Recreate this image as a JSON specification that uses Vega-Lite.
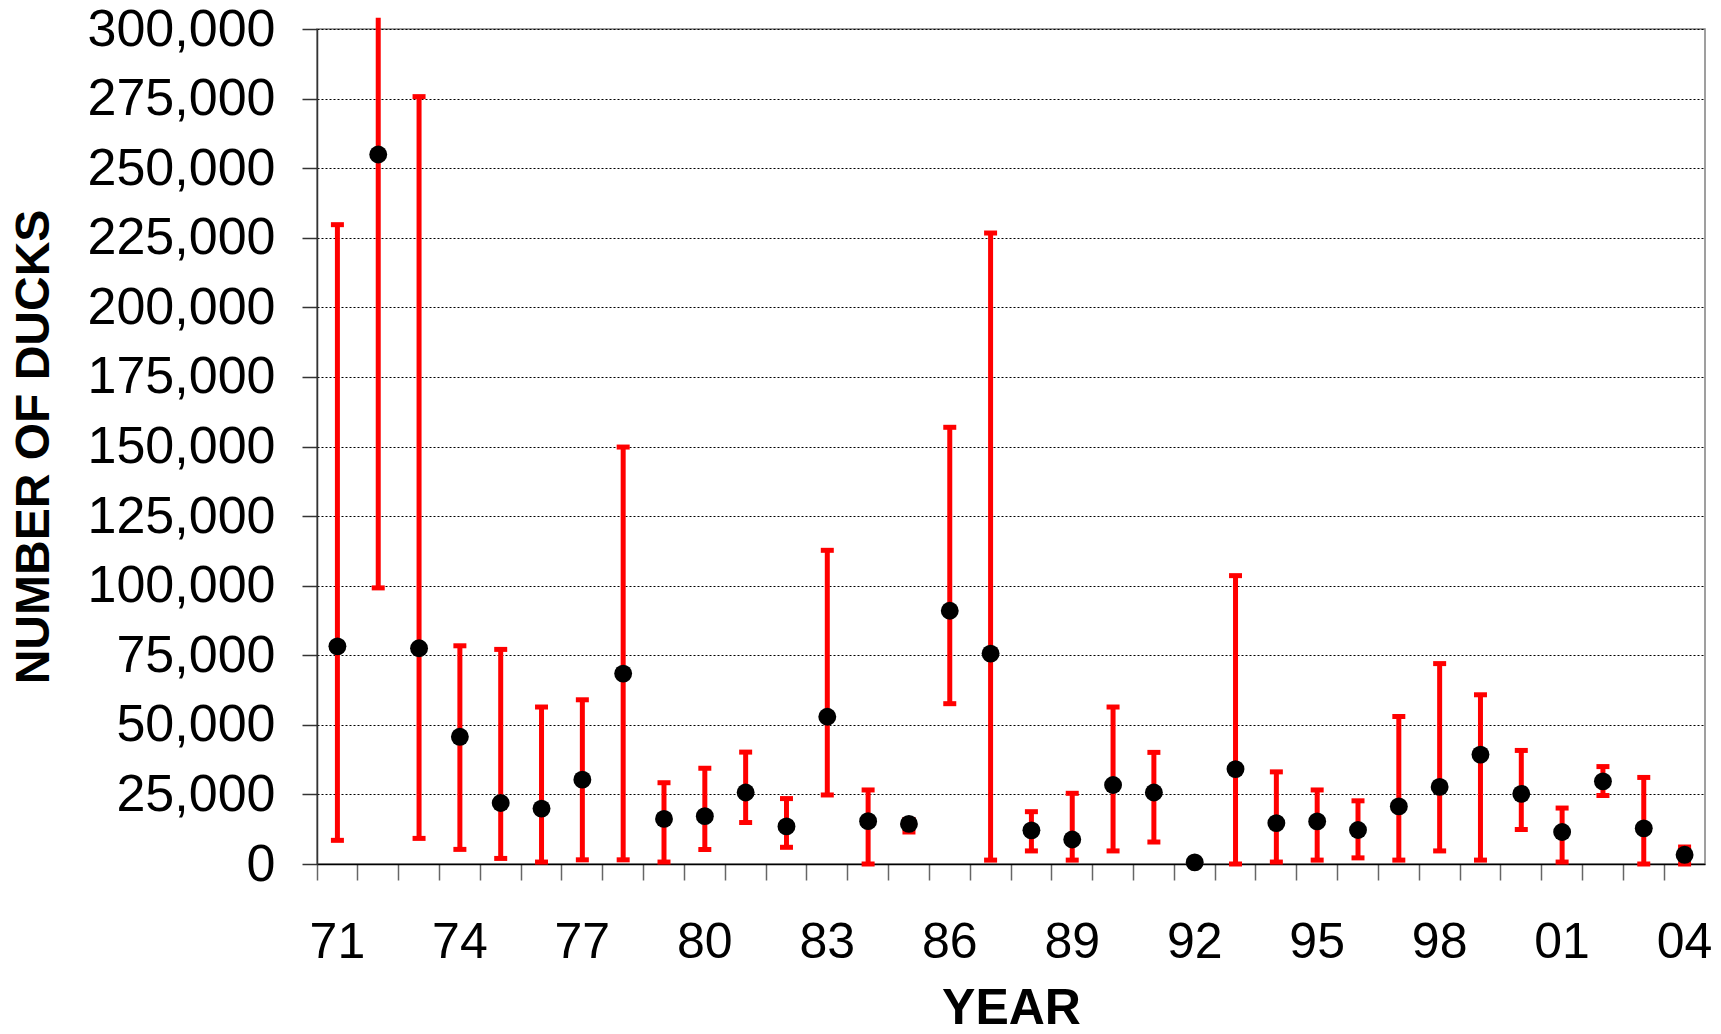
{
  "$schema": "https://vega.github.io/schema/vega-lite/v6.json",
  "width": 1388,
  "height": 835,
  "autosize": {"type": "none"},
  "padding": {"left": 317, "top": 29, "right": 16, "bottom": 170},
  "background": "#ffffff",
  "config": {
    "font": "Liberation Sans",
    "view": {"stroke": "#808080", "strokeWidth": 1.5}
  },
  "data": {
    "values": [
      {"yr": "71", "est": 78200, "lo": 8500, "hi": 229700},
      {"yr": "72", "est": 254900, "lo": 99200, "hi": 304000},
      {"yr": "73", "est": 77500, "lo": 9200, "hi": 275700},
      {"yr": "74", "est": 45700, "lo": 5250, "hi": 78400},
      {"yr": "75", "est": 21900, "lo": 2000, "hi": 77100},
      {"yr": "76", "est": 19900, "lo": 700, "hi": 56400},
      {"yr": "77", "est": 30300, "lo": 1500, "hi": 59000},
      {"yr": "78", "est": 68400, "lo": 1500, "hi": 149800},
      {"yr": "79", "est": 16200, "lo": 700, "hi": 29200},
      {"yr": "80", "est": 17200, "lo": 5200, "hi": 34400},
      {"yr": "81", "est": 25700, "lo": 14900, "hi": 40200},
      {"yr": "82", "est": 13500, "lo": 6000, "hi": 23500},
      {"yr": "83", "est": 52900, "lo": 24800, "hi": 112700},
      {"yr": "84", "est": 15400, "lo": 0, "hi": 26600},
      {"yr": "85", "est": 14400, "lo": 11500, "hi": 16000},
      {"yr": "86", "est": 91000, "lo": 57600, "hi": 156900},
      {"yr": "87", "est": 75600, "lo": 1400, "hi": 226700},
      {"yr": "88", "est": 12100, "lo": 4700, "hi": 18800},
      {"yr": "89", "est": 8800, "lo": 1400, "hi": 25400},
      {"yr": "90", "est": 28400, "lo": 4700, "hi": 56400},
      {"yr": "91", "est": 25700, "lo": 7900, "hi": 40100},
      {"yr": "92", "est": 600, "lo": 600, "hi": 600},
      {"yr": "93", "est": 34100, "lo": 0, "hi": 103600},
      {"yr": "94", "est": 14700, "lo": 700, "hi": 33100},
      {"yr": "95", "est": 15300, "lo": 1400, "hi": 26600},
      {"yr": "96", "est": 12200, "lo": 2200, "hi": 22700},
      {"yr": "97", "est": 20700, "lo": 1400, "hi": 53000},
      {"yr": "98", "est": 27700, "lo": 4700, "hi": 72000},
      {"yr": "99", "est": 39300, "lo": 1400, "hi": 60800},
      {"yr": "00", "est": 25200, "lo": 12400, "hi": 40800},
      {"yr": "01", "est": 11500, "lo": 700, "hi": 20100},
      {"yr": "02", "est": 29700, "lo": 24600, "hi": 35000},
      {"yr": "03", "est": 12800, "lo": 0, "hi": 31100},
      {"yr": "04", "est": 3300, "lo": 0, "hi": 6100}
    ]
  },
  "encoding": {
    "x": {
      "field": "yr",
      "type": "ordinal",
      "sort": null,
      "title": "YEAR",
      "scale": {"paddingInner": 0, "paddingOuter": 0},
      "axis": {
        "bandPosition": 0,
        "labelAngle": 0,
        "labelOverlap": false,
        "labelExpr": "indexof(['71','74','77','80','83','86','89','92','95','98','01','04'], datum.value) >= 0 ? datum.value : ''",
        "labelFont": "Liberation Sans",
        "labelFontSize": 50,
        "labelColor": "#000000",
        "labelPadding": 37,
        "tickSize": 16,
        "tickColor": "#666666",
        "tickWidth": 1.5,
        "domainColor": "#000000",
        "domainWidth": 1.5,
        "grid": false,
        "titleFont": "Liberation Sans",
        "titleFontSize": 50,
        "titleFontWeight": "bold",
        "titleColor": "#000000",
        "titlePadding": 16
      }
    }
  },
  "layer": [
    {
      "mark": {"type": "rule", "color": "#ff0000", "strokeWidth": 5},
      "encoding": {
        "y": {
          "field": "lo",
          "type": "quantitative",
          "title": "NUMBER OF DUCKS",
          "scale": {"domain": [0, 300000], "nice": false, "zero": true},
          "axis": {
            "values": [0, 25000, 50000, 75000, 100000, 125000, 150000, 175000, 200000, 225000, 250000, 275000, 300000],
            "labelExpr": "format(datum.value, ',')",
            "labelFont": "Liberation Sans",
            "labelFontSize": 52,
            "labelLimit": 400,
            "labelColor": "#000000",
            "labelPadding": 27,
            "tickSize": 15,
            "tickColor": "#333333",
            "tickWidth": 1.5,
            "domainColor": "#333333",
            "domainWidth": 1.5,
            "grid": true,
            "gridColor": "#000000",
            "gridDash": [2, 2],
            "gridWidth": 1,
            "titleFont": "Liberation Sans",
            "titleFontSize": 48,
            "titleFontWeight": "bold",
            "titleColor": "#000000",
            "titlePadding": 59
          }
        },
        "y2": {"field": "hi"}
      }
    },
    {
      "transform": [{"filter": "datum.yr !== '92'"}],
      "mark": {"type": "tick", "color": "#ff0000", "size": 13, "thickness": 5, "opacity": 1},
      "encoding": {
        "y": {"field": "lo", "type": "quantitative", "title": "NUMBER OF DUCKS"}
      }
    },
    {
      "transform": [{"filter": "datum.yr !== '92' && datum.yr !== '72'"}],
      "mark": {"type": "tick", "color": "#ff0000", "size": 13, "thickness": 5, "opacity": 1},
      "encoding": {
        "y": {"field": "hi", "type": "quantitative", "title": "NUMBER OF DUCKS"}
      }
    },
    {
      "mark": {"type": "point", "shape": "circle", "filled": true, "color": "#000000", "opacity": 1, "size": 320},
      "encoding": {
        "y": {"field": "est", "type": "quantitative", "title": "NUMBER OF DUCKS"}
      }
    }
  ]
}
